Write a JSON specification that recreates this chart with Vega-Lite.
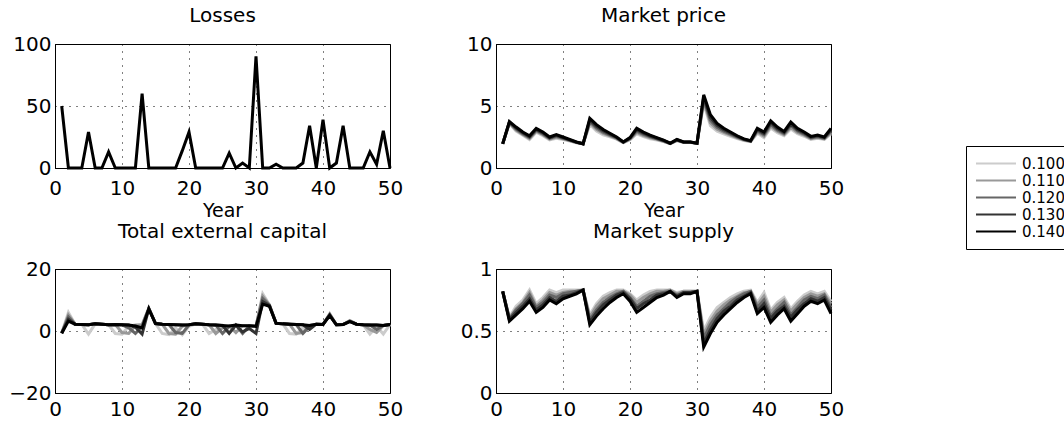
{
  "$schema": "https://vega.github.io/schema/vega-lite/v6.json",
  "padding": {"left": 8, "top": 5, "right": 0, "bottom": 0},
  "background": "white",
  "config": {
    "font": "DejaVu Sans",
    "view": {"stroke": "black", "strokeWidth": 1},
    "axis": {
      "domainColor": "black", "domainWidth": 1, "ticks": false,
      "labelFont": "DejaVu Sans", "labelFontSize": 20, "labelColor": "black",
      "titleFont": "DejaVu Sans", "titleFontSize": 19, "titleFontWeight": "normal", "titleColor": "black",
      "grid": true, "gridColor": "black", "gridDash": [1, 6], "gridOpacity": 1, "gridWidth": 1,
      "labelFlush": false, "labelOverlap": false
    },
    "axisX": {"labelPadding": 10, "titlePadding": 3},
    "axisY": {"labelPadding": 4},
    "title": {"font": "DejaVu Sans", "fontSize": 20, "fontWeight": "normal", "color": "black", "anchor": "middle"},
    "legend": {
      "symbolType": "stroke", "symbolSize": 1600, "symbolStrokeWidth": 2, "symbolOffset": 0,
      "labelFont": "DejaVu Sans", "labelFontSize": 15, "labelColor": "black", "labelOffset": 5,
      "strokeColor": "black", "fillColor": "white", "padding": 9, "rowPadding": 0, "clipHeight": 17
    }
  },
  "datasets": {
    "losses": [
      {"t":1,"v":50},{"t":2,"v":0},{"t":3,"v":0},{"t":4,"v":0},{"t":5,"v":29},{"t":6,"v":0},{"t":7,"v":0},{"t":8,"v":13},{"t":9,"v":0},{"t":10,"v":0},
      {"t":11,"v":0},{"t":12,"v":0},{"t":13,"v":60},{"t":14,"v":0},{"t":15,"v":0},{"t":16,"v":0},{"t":17,"v":0},{"t":18,"v":0},{"t":19,"v":14},{"t":20,"v":29},
      {"t":21,"v":0},{"t":22,"v":0},{"t":23,"v":0},{"t":24,"v":0},{"t":25,"v":0},{"t":26,"v":12},{"t":27,"v":0},{"t":28,"v":4},{"t":29,"v":0},{"t":30,"v":90},
      {"t":31,"v":0},{"t":32,"v":0},{"t":33,"v":3},{"t":34,"v":0},{"t":35,"v":0},{"t":36,"v":0},{"t":37,"v":4},{"t":38,"v":34},{"t":39,"v":0},{"t":40,"v":39},
      {"t":41,"v":0},{"t":42,"v":4},{"t":43,"v":34},{"t":44,"v":0},{"t":45,"v":0},{"t":46,"v":0},{"t":47,"v":13},{"t":48,"v":3},{"t":49,"v":30},{"t":50,"v":0}
    ],
    "price": [
      {"t":1,"s":"0.100","v":1.95},{"t":1,"s":"0.110","v":1.95},{"t":1,"s":"0.120","v":1.95},{"t":1,"s":"0.130","v":1.95},{"t":1,"s":"0.140","v":1.95},
      {"t":2,"s":"0.100","v":3.58},{"t":2,"s":"0.110","v":3.62},{"t":2,"s":"0.120","v":3.67},{"t":2,"s":"0.130","v":3.71},{"t":2,"s":"0.140","v":3.75},
      {"t":3,"s":"0.100","v":2.98},{"t":3,"s":"0.110","v":3.06},{"t":3,"s":"0.120","v":3.14},{"t":3,"s":"0.130","v":3.22},{"t":3,"s":"0.140","v":3.3},
      {"t":4,"s":"0.100","v":2.64},{"t":4,"s":"0.110","v":2.71},{"t":4,"s":"0.120","v":2.77},{"t":4,"s":"0.130","v":2.84},{"t":4,"s":"0.140","v":2.9},
      {"t":5,"s":"0.100","v":2.29},{"t":5,"s":"0.110","v":2.37},{"t":5,"s":"0.120","v":2.45},{"t":5,"s":"0.130","v":2.52},{"t":5,"s":"0.140","v":2.6},
      {"t":6,"s":"0.100","v":2.89},{"t":6,"s":"0.110","v":2.97},{"t":6,"s":"0.120","v":3.05},{"t":6,"s":"0.130","v":3.12},{"t":6,"s":"0.140","v":3.2},
      {"t":7,"s":"0.100","v":2.6},{"t":7,"s":"0.110","v":2.68},{"t":7,"s":"0.120","v":2.75},{"t":7,"s":"0.130","v":2.83},{"t":7,"s":"0.140","v":2.9},
      {"t":8,"s":"0.100","v":2.27},{"t":8,"s":"0.110","v":2.33},{"t":8,"s":"0.120","v":2.39},{"t":8,"s":"0.130","v":2.44},{"t":8,"s":"0.140","v":2.5},
      {"t":9,"s":"0.100","v":2.4},{"t":9,"s":"0.110","v":2.48},{"t":9,"s":"0.120","v":2.55},{"t":9,"s":"0.130","v":2.63},{"t":9,"s":"0.140","v":2.7},
      {"t":10,"s":"0.100","v":2.3},{"t":10,"s":"0.110","v":2.35},{"t":10,"s":"0.120","v":2.4},{"t":10,"s":"0.130","v":2.45},{"t":10,"s":"0.140","v":2.5},
      {"t":11,"s":"0.100","v":2.18},{"t":11,"s":"0.110","v":2.21},{"t":11,"s":"0.120","v":2.24},{"t":11,"s":"0.130","v":2.27},{"t":11,"s":"0.140","v":2.3},
      {"t":12,"s":"0.100","v":2.04},{"t":12,"s":"0.110","v":2.06},{"t":12,"s":"0.120","v":2.07},{"t":12,"s":"0.130","v":2.09},{"t":12,"s":"0.140","v":2.1},
      {"t":13,"s":"0.100","v":1.95},{"t":13,"s":"0.110","v":1.95},{"t":13,"s":"0.120","v":1.95},{"t":13,"s":"0.130","v":1.95},{"t":13,"s":"0.140","v":1.95},
      {"t":14,"s":"0.100","v":3.51},{"t":14,"s":"0.110","v":3.63},{"t":14,"s":"0.120","v":3.76},{"t":14,"s":"0.130","v":3.88},{"t":14,"s":"0.140","v":4.0},
      {"t":15,"s":"0.100","v":2.99},{"t":15,"s":"0.110","v":3.12},{"t":15,"s":"0.120","v":3.25},{"t":15,"s":"0.130","v":3.37},{"t":15,"s":"0.140","v":3.5},
      {"t":16,"s":"0.100","v":2.68},{"t":16,"s":"0.110","v":2.79},{"t":16,"s":"0.120","v":2.89},{"t":16,"s":"0.130","v":3.0},{"t":16,"s":"0.140","v":3.1},
      {"t":17,"s":"0.100","v":2.52},{"t":17,"s":"0.110","v":2.59},{"t":17,"s":"0.120","v":2.66},{"t":17,"s":"0.130","v":2.73},{"t":17,"s":"0.140","v":2.8},
      {"t":18,"s":"0.100","v":2.33},{"t":18,"s":"0.110","v":2.37},{"t":18,"s":"0.120","v":2.42},{"t":18,"s":"0.130","v":2.46},{"t":18,"s":"0.140","v":2.5},
      {"t":19,"s":"0.100","v":2.04},{"t":19,"s":"0.110","v":2.06},{"t":19,"s":"0.120","v":2.07},{"t":19,"s":"0.130","v":2.09},{"t":19,"s":"0.140","v":2.1},
      {"t":20,"s":"0.100","v":2.28},{"t":20,"s":"0.110","v":2.32},{"t":20,"s":"0.120","v":2.37},{"t":20,"s":"0.130","v":2.41},{"t":20,"s":"0.140","v":2.45},
      {"t":21,"s":"0.100","v":2.76},{"t":21,"s":"0.110","v":2.87},{"t":21,"s":"0.120","v":2.98},{"t":21,"s":"0.130","v":3.09},{"t":21,"s":"0.140","v":3.2},
      {"t":22,"s":"0.100","v":2.53},{"t":22,"s":"0.110","v":2.62},{"t":22,"s":"0.120","v":2.72},{"t":22,"s":"0.130","v":2.81},{"t":22,"s":"0.140","v":2.9},
      {"t":23,"s":"0.100","v":2.36},{"t":23,"s":"0.110","v":2.43},{"t":23,"s":"0.120","v":2.51},{"t":23,"s":"0.130","v":2.58},{"t":23,"s":"0.140","v":2.65},
      {"t":24,"s":"0.100","v":2.26},{"t":24,"s":"0.110","v":2.31},{"t":24,"s":"0.120","v":2.36},{"t":24,"s":"0.130","v":2.4},{"t":24,"s":"0.140","v":2.45},
      {"t":25,"s":"0.100","v":2.13},{"t":25,"s":"0.110","v":2.16},{"t":25,"s":"0.120","v":2.19},{"t":25,"s":"0.130","v":2.22},{"t":25,"s":"0.140","v":2.25},
      {"t":26,"s":"0.100","v":1.96},{"t":26,"s":"0.110","v":1.97},{"t":26,"s":"0.120","v":1.98},{"t":26,"s":"0.130","v":1.99},{"t":26,"s":"0.140","v":2.0},
      {"t":27,"s":"0.100","v":2.2},{"t":27,"s":"0.110","v":2.23},{"t":27,"s":"0.120","v":2.25},{"t":27,"s":"0.130","v":2.28},{"t":27,"s":"0.140","v":2.3},
      {"t":28,"s":"0.100","v":2.06},{"t":28,"s":"0.110","v":2.07},{"t":28,"s":"0.120","v":2.08},{"t":28,"s":"0.130","v":2.09},{"t":28,"s":"0.140","v":2.1},
      {"t":29,"s":"0.100","v":2.06},{"t":29,"s":"0.110","v":2.07},{"t":29,"s":"0.120","v":2.08},{"t":29,"s":"0.130","v":2.09},{"t":29,"s":"0.140","v":2.1},
      {"t":30,"s":"0.100","v":2.0},{"t":30,"s":"0.110","v":2.0},{"t":30,"s":"0.120","v":2.0},{"t":30,"s":"0.130","v":2.0},{"t":30,"s":"0.140","v":2.0},
      {"t":31,"s":"0.100","v":5.2},{"t":31,"s":"0.110","v":5.38},{"t":31,"s":"0.120","v":5.55},{"t":31,"s":"0.130","v":5.73},{"t":31,"s":"0.140","v":5.9},
      {"t":32,"s":"0.100","v":3.41},{"t":32,"s":"0.110","v":3.63},{"t":32,"s":"0.120","v":3.86},{"t":32,"s":"0.130","v":4.08},{"t":32,"s":"0.140","v":4.3},
      {"t":33,"s":"0.100","v":2.97},{"t":33,"s":"0.110","v":3.13},{"t":33,"s":"0.120","v":3.29},{"t":33,"s":"0.130","v":3.44},{"t":33,"s":"0.140","v":3.6},
      {"t":34,"s":"0.100","v":2.76},{"t":34,"s":"0.110","v":2.87},{"t":34,"s":"0.120","v":2.98},{"t":34,"s":"0.130","v":3.09},{"t":34,"s":"0.140","v":3.2},
      {"t":35,"s":"0.100","v":2.56},{"t":35,"s":"0.110","v":2.65},{"t":35,"s":"0.120","v":2.73},{"t":35,"s":"0.130","v":2.82},{"t":35,"s":"0.140","v":2.9},
      {"t":36,"s":"0.100","v":2.38},{"t":36,"s":"0.110","v":2.44},{"t":36,"s":"0.120","v":2.49},{"t":36,"s":"0.130","v":2.55},{"t":36,"s":"0.140","v":2.6},
      {"t":37,"s":"0.100","v":2.22},{"t":37,"s":"0.110","v":2.25},{"t":37,"s":"0.120","v":2.29},{"t":37,"s":"0.130","v":2.32},{"t":37,"s":"0.140","v":2.35},
      {"t":38,"s":"0.100","v":2.13},{"t":38,"s":"0.110","v":2.15},{"t":38,"s":"0.120","v":2.17},{"t":38,"s":"0.130","v":2.18},{"t":38,"s":"0.140","v":2.2},
      {"t":39,"s":"0.100","v":2.8},{"t":39,"s":"0.110","v":2.9},{"t":39,"s":"0.120","v":3.0},{"t":39,"s":"0.130","v":3.1},{"t":39,"s":"0.140","v":3.2},
      {"t":40,"s":"0.100","v":2.45},{"t":40,"s":"0.110","v":2.56},{"t":40,"s":"0.120","v":2.68},{"t":40,"s":"0.130","v":2.79},{"t":40,"s":"0.140","v":2.9},
      {"t":41,"s":"0.100","v":3.23},{"t":41,"s":"0.110","v":3.37},{"t":41,"s":"0.120","v":3.52},{"t":41,"s":"0.130","v":3.66},{"t":41,"s":"0.140","v":3.8},
      {"t":42,"s":"0.100","v":2.84},{"t":42,"s":"0.110","v":2.96},{"t":42,"s":"0.120","v":3.07},{"t":42,"s":"0.130","v":3.19},{"t":42,"s":"0.140","v":3.3},
      {"t":43,"s":"0.100","v":2.6},{"t":43,"s":"0.110","v":2.69},{"t":43,"s":"0.120","v":2.78},{"t":43,"s":"0.130","v":2.86},{"t":43,"s":"0.140","v":2.95},
      {"t":44,"s":"0.100","v":3.15},{"t":44,"s":"0.110","v":3.29},{"t":44,"s":"0.120","v":3.43},{"t":44,"s":"0.130","v":3.56},{"t":44,"s":"0.140","v":3.7},
      {"t":45,"s":"0.100","v":2.76},{"t":45,"s":"0.110","v":2.87},{"t":45,"s":"0.120","v":2.98},{"t":45,"s":"0.130","v":3.09},{"t":45,"s":"0.140","v":3.2},
      {"t":46,"s":"0.100","v":2.56},{"t":46,"s":"0.110","v":2.65},{"t":46,"s":"0.120","v":2.73},{"t":46,"s":"0.130","v":2.82},{"t":46,"s":"0.140","v":2.9},
      {"t":47,"s":"0.100","v":2.31},{"t":47,"s":"0.110","v":2.37},{"t":47,"s":"0.120","v":2.43},{"t":47,"s":"0.130","v":2.49},{"t":47,"s":"0.140","v":2.55},
      {"t":48,"s":"0.100","v":2.39},{"t":48,"s":"0.110","v":2.46},{"t":48,"s":"0.120","v":2.52},{"t":48,"s":"0.130","v":2.59},{"t":48,"s":"0.140","v":2.65},
      {"t":49,"s":"0.100","v":2.3},{"t":49,"s":"0.110","v":2.35},{"t":49,"s":"0.120","v":2.4},{"t":49,"s":"0.130","v":2.45},{"t":49,"s":"0.140","v":2.5},
      {"t":50,"s":"0.100","v":2.76},{"t":50,"s":"0.110","v":2.87},{"t":50,"s":"0.120","v":2.98},{"t":50,"s":"0.130","v":3.09},{"t":50,"s":"0.140","v":3.2}
    ],
    "supply": [
      {"t":1,"s":"0.100","v":0.82},{"t":1,"s":"0.110","v":0.82},{"t":1,"s":"0.120","v":0.82},{"t":1,"s":"0.130","v":0.82},{"t":1,"s":"0.140","v":0.82},
      {"t":2,"s":"0.100","v":0.61},{"t":2,"s":"0.110","v":0.6},{"t":2,"s":"0.120","v":0.6},{"t":2,"s":"0.130","v":0.59},{"t":2,"s":"0.140","v":0.58},
      {"t":3,"s":"0.100","v":0.7},{"t":3,"s":"0.110","v":0.68},{"t":3,"s":"0.120","v":0.67},{"t":3,"s":"0.130","v":0.65},{"t":3,"s":"0.140","v":0.63},
      {"t":4,"s":"0.100","v":0.75},{"t":4,"s":"0.110","v":0.73},{"t":4,"s":"0.120","v":0.72},{"t":4,"s":"0.130","v":0.7},{"t":4,"s":"0.140","v":0.68},
      {"t":5,"s":"0.100","v":0.83},{"t":5,"s":"0.110","v":0.81},{"t":5,"s":"0.120","v":0.79},{"t":5,"s":"0.130","v":0.76},{"t":5,"s":"0.140","v":0.74},
      {"t":6,"s":"0.100","v":0.72},{"t":6,"s":"0.110","v":0.7},{"t":6,"s":"0.120","v":0.69},{"t":6,"s":"0.130","v":0.67},{"t":6,"s":"0.140","v":0.65},
      {"t":7,"s":"0.100","v":0.77},{"t":7,"s":"0.110","v":0.75},{"t":7,"s":"0.120","v":0.73},{"t":7,"s":"0.130","v":0.71},{"t":7,"s":"0.140","v":0.69},
      {"t":8,"s":"0.100","v":0.83},{"t":8,"s":"0.110","v":0.81},{"t":8,"s":"0.120","v":0.79},{"t":8,"s":"0.130","v":0.77},{"t":8,"s":"0.140","v":0.75},
      {"t":9,"s":"0.100","v":0.81},{"t":9,"s":"0.110","v":0.79},{"t":9,"s":"0.120","v":0.77},{"t":9,"s":"0.130","v":0.74},{"t":9,"s":"0.140","v":0.72},
      {"t":10,"s":"0.100","v":0.83},{"t":10,"s":"0.110","v":0.81},{"t":10,"s":"0.120","v":0.8},{"t":10,"s":"0.130","v":0.78},{"t":10,"s":"0.140","v":0.76},
      {"t":11,"s":"0.100","v":0.83},{"t":11,"s":"0.110","v":0.82},{"t":11,"s":"0.120","v":0.81},{"t":11,"s":"0.130","v":0.79},{"t":11,"s":"0.140","v":0.78},
      {"t":12,"s":"0.100","v":0.83},{"t":12,"s":"0.110","v":0.82},{"t":12,"s":"0.120","v":0.82},{"t":12,"s":"0.130","v":0.81},{"t":12,"s":"0.140","v":0.8},
      {"t":13,"s":"0.100","v":0.83},{"t":13,"s":"0.110","v":0.83},{"t":13,"s":"0.120","v":0.83},{"t":13,"s":"0.130","v":0.83},{"t":13,"s":"0.140","v":0.83},
      {"t":14,"s":"0.100","v":0.63},{"t":14,"s":"0.110","v":0.61},{"t":14,"s":"0.120","v":0.59},{"t":14,"s":"0.130","v":0.57},{"t":14,"s":"0.140","v":0.55},
      {"t":15,"s":"0.100","v":0.72},{"t":15,"s":"0.110","v":0.7},{"t":15,"s":"0.120","v":0.67},{"t":15,"s":"0.130","v":0.65},{"t":15,"s":"0.140","v":0.62},
      {"t":16,"s":"0.100","v":0.78},{"t":16,"s":"0.110","v":0.76},{"t":16,"s":"0.120","v":0.73},{"t":16,"s":"0.130","v":0.71},{"t":16,"s":"0.140","v":0.68},
      {"t":17,"s":"0.100","v":0.81},{"t":17,"s":"0.110","v":0.79},{"t":17,"s":"0.120","v":0.77},{"t":17,"s":"0.130","v":0.75},{"t":17,"s":"0.140","v":0.73},
      {"t":18,"s":"0.100","v":0.83},{"t":18,"s":"0.110","v":0.82},{"t":18,"s":"0.120","v":0.8},{"t":18,"s":"0.130","v":0.79},{"t":18,"s":"0.140","v":0.77},
      {"t":19,"s":"0.100","v":0.83},{"t":19,"s":"0.110","v":0.82},{"t":19,"s":"0.120","v":0.82},{"t":19,"s":"0.130","v":0.81},{"t":19,"s":"0.140","v":0.8},
      {"t":20,"s":"0.100","v":0.8},{"t":20,"s":"0.110","v":0.79},{"t":20,"s":"0.120","v":0.77},{"t":20,"s":"0.130","v":0.76},{"t":20,"s":"0.140","v":0.74},
      {"t":21,"s":"0.100","v":0.75},{"t":21,"s":"0.110","v":0.73},{"t":21,"s":"0.120","v":0.7},{"t":21,"s":"0.130","v":0.68},{"t":21,"s":"0.140","v":0.65},
      {"t":22,"s":"0.100","v":0.79},{"t":22,"s":"0.110","v":0.77},{"t":22,"s":"0.120","v":0.74},{"t":22,"s":"0.130","v":0.72},{"t":22,"s":"0.140","v":0.69},
      {"t":23,"s":"0.100","v":0.82},{"t":23,"s":"0.110","v":0.8},{"t":23,"s":"0.120","v":0.78},{"t":23,"s":"0.130","v":0.75},{"t":23,"s":"0.140","v":0.73},
      {"t":24,"s":"0.100","v":0.83},{"t":24,"s":"0.110","v":0.82},{"t":24,"s":"0.120","v":0.8},{"t":24,"s":"0.130","v":0.79},{"t":24,"s":"0.140","v":0.77},
      {"t":25,"s":"0.100","v":0.83},{"t":25,"s":"0.110","v":0.82},{"t":25,"s":"0.120","v":0.81},{"t":25,"s":"0.130","v":0.8},{"t":25,"s":"0.140","v":0.79},
      {"t":26,"s":"0.100","v":0.83},{"t":26,"s":"0.110","v":0.83},{"t":26,"s":"0.120","v":0.82},{"t":26,"s":"0.130","v":0.82},{"t":26,"s":"0.140","v":0.82},
      {"t":27,"s":"0.100","v":0.81},{"t":27,"s":"0.110","v":0.8},{"t":27,"s":"0.120","v":0.79},{"t":27,"s":"0.130","v":0.78},{"t":27,"s":"0.140","v":0.77},
      {"t":28,"s":"0.100","v":0.82},{"t":28,"s":"0.110","v":0.82},{"t":28,"s":"0.120","v":0.81},{"t":28,"s":"0.130","v":0.81},{"t":28,"s":"0.140","v":0.8},
      {"t":29,"s":"0.100","v":0.82},{"t":29,"s":"0.110","v":0.82},{"t":29,"s":"0.120","v":0.81},{"t":29,"s":"0.130","v":0.81},{"t":29,"s":"0.140","v":0.8},
      {"t":30,"s":"0.100","v":0.82},{"t":30,"s":"0.110","v":0.82},{"t":30,"s":"0.120","v":0.82},{"t":30,"s":"0.130","v":0.82},{"t":30,"s":"0.140","v":0.82},
      {"t":31,"s":"0.100","v":0.5},{"t":31,"s":"0.110","v":0.47},{"t":31,"s":"0.120","v":0.44},{"t":31,"s":"0.130","v":0.4},{"t":31,"s":"0.140","v":0.37},
      {"t":32,"s":"0.100","v":0.61},{"t":32,"s":"0.110","v":0.58},{"t":32,"s":"0.120","v":0.55},{"t":32,"s":"0.130","v":0.51},{"t":32,"s":"0.140","v":0.48},
      {"t":33,"s":"0.100","v":0.69},{"t":33,"s":"0.110","v":0.66},{"t":33,"s":"0.120","v":0.63},{"t":33,"s":"0.130","v":0.6},{"t":33,"s":"0.140","v":0.57},
      {"t":34,"s":"0.100","v":0.73},{"t":34,"s":"0.110","v":0.71},{"t":34,"s":"0.120","v":0.68},{"t":34,"s":"0.130","v":0.66},{"t":34,"s":"0.140","v":0.63},
      {"t":35,"s":"0.100","v":0.77},{"t":35,"s":"0.110","v":0.75},{"t":35,"s":"0.120","v":0.73},{"t":35,"s":"0.130","v":0.7},{"t":35,"s":"0.140","v":0.68},
      {"t":36,"s":"0.100","v":0.8},{"t":36,"s":"0.110","v":0.78},{"t":36,"s":"0.120","v":0.77},{"t":36,"s":"0.130","v":0.75},{"t":36,"s":"0.140","v":0.73},
      {"t":37,"s":"0.100","v":0.82},{"t":37,"s":"0.110","v":0.81},{"t":37,"s":"0.120","v":0.8},{"t":37,"s":"0.130","v":0.78},{"t":37,"s":"0.140","v":0.77},
      {"t":38,"s":"0.100","v":0.83},{"t":38,"s":"0.110","v":0.82},{"t":38,"s":"0.120","v":0.82},{"t":38,"s":"0.130","v":0.81},{"t":38,"s":"0.140","v":0.8},
      {"t":39,"s":"0.100","v":0.73},{"t":39,"s":"0.110","v":0.71},{"t":39,"s":"0.120","v":0.69},{"t":39,"s":"0.130","v":0.66},{"t":39,"s":"0.140","v":0.64},
      {"t":40,"s":"0.100","v":0.81},{"t":40,"s":"0.110","v":0.78},{"t":40,"s":"0.120","v":0.75},{"t":40,"s":"0.130","v":0.72},{"t":40,"s":"0.140","v":0.69},
      {"t":41,"s":"0.100","v":0.67},{"t":41,"s":"0.110","v":0.65},{"t":41,"s":"0.120","v":0.62},{"t":41,"s":"0.130","v":0.6},{"t":41,"s":"0.140","v":0.57},
      {"t":42,"s":"0.100","v":0.73},{"t":42,"s":"0.110","v":0.71},{"t":42,"s":"0.120","v":0.68},{"t":42,"s":"0.130","v":0.66},{"t":42,"s":"0.140","v":0.63},
      {"t":43,"s":"0.100","v":0.77},{"t":43,"s":"0.110","v":0.75},{"t":43,"s":"0.120","v":0.73},{"t":43,"s":"0.130","v":0.7},{"t":43,"s":"0.140","v":0.68},
      {"t":44,"s":"0.100","v":0.68},{"t":44,"s":"0.110","v":0.66},{"t":44,"s":"0.120","v":0.63},{"t":44,"s":"0.130","v":0.61},{"t":44,"s":"0.140","v":0.58},
      {"t":45,"s":"0.100","v":0.74},{"t":45,"s":"0.110","v":0.72},{"t":45,"s":"0.120","v":0.69},{"t":45,"s":"0.130","v":0.67},{"t":45,"s":"0.140","v":0.64},
      {"t":46,"s":"0.100","v":0.79},{"t":46,"s":"0.110","v":0.77},{"t":46,"s":"0.120","v":0.75},{"t":46,"s":"0.130","v":0.72},{"t":46,"s":"0.140","v":0.7},
      {"t":47,"s":"0.100","v":0.82},{"t":47,"s":"0.110","v":0.8},{"t":47,"s":"0.120","v":0.78},{"t":47,"s":"0.130","v":0.76},{"t":47,"s":"0.140","v":0.74},
      {"t":48,"s":"0.100","v":0.8},{"t":48,"s":"0.110","v":0.78},{"t":48,"s":"0.120","v":0.76},{"t":48,"s":"0.130","v":0.74},{"t":48,"s":"0.140","v":0.72},
      {"t":49,"s":"0.100","v":0.82},{"t":49,"s":"0.110","v":0.8},{"t":49,"s":"0.120","v":0.79},{"t":49,"s":"0.130","v":0.77},{"t":49,"s":"0.140","v":0.75},
      {"t":50,"s":"0.100","v":0.74},{"t":50,"s":"0.110","v":0.72},{"t":50,"s":"0.120","v":0.69},{"t":50,"s":"0.130","v":0.67},{"t":50,"s":"0.140","v":0.64}
    ],
    "capital": [
      {"t":1,"s":"0.100","v":-0.7},{"t":1,"s":"0.110","v":-0.7},{"t":1,"s":"0.120","v":-0.7},{"t":1,"s":"0.130","v":-0.7},{"t":1,"s":"0.140","v":-0.7},
      {"t":2,"s":"0.100","v":6.0},{"t":2,"s":"0.110","v":5.2},{"t":2,"s":"0.120","v":4.5},{"t":2,"s":"0.130","v":3.8},{"t":2,"s":"0.140","v":3.2},
      {"t":3,"s":"0.100","v":2.2},{"t":3,"s":"0.110","v":2.2},{"t":3,"s":"0.120","v":2.2},{"t":3,"s":"0.130","v":2.2},{"t":3,"s":"0.140","v":2.2},
      {"t":4,"s":"0.100","v":2.1},{"t":4,"s":"0.110","v":2.1},{"t":4,"s":"0.120","v":2.1},{"t":4,"s":"0.130","v":2.1},{"t":4,"s":"0.140","v":2.1},
      {"t":5,"s":"0.100","v":-1.0},{"t":5,"s":"0.110","v":2.0},{"t":5,"s":"0.120","v":2.0},{"t":5,"s":"0.130","v":2.0},{"t":5,"s":"0.140","v":2.0},
      {"t":6,"s":"0.100","v":2.3},{"t":6,"s":"0.110","v":2.3},{"t":6,"s":"0.120","v":2.3},{"t":6,"s":"0.130","v":2.3},{"t":6,"s":"0.140","v":2.3},
      {"t":7,"s":"0.100","v":2.2},{"t":7,"s":"0.110","v":2.2},{"t":7,"s":"0.120","v":2.2},{"t":7,"s":"0.130","v":2.2},{"t":7,"s":"0.140","v":2.2},
      {"t":8,"s":"0.100","v":2.0},{"t":8,"s":"0.110","v":2.0},{"t":8,"s":"0.120","v":2.0},{"t":8,"s":"0.130","v":2.0},{"t":8,"s":"0.140","v":2.0},
      {"t":9,"s":"0.100","v":-0.8},{"t":9,"s":"0.110","v":2.1},{"t":9,"s":"0.120","v":2.1},{"t":9,"s":"0.130","v":2.1},{"t":9,"s":"0.140","v":2.1},
      {"t":10,"s":"0.100","v":-1.0},{"t":10,"s":"0.110","v":-0.5},{"t":10,"s":"0.120","v":2.0},{"t":10,"s":"0.130","v":2.0},{"t":10,"s":"0.140","v":2.0},
      {"t":11,"s":"0.100","v":1.5},{"t":11,"s":"0.110","v":-0.8},{"t":11,"s":"0.120","v":1.0},{"t":11,"s":"0.130","v":1.9},{"t":11,"s":"0.140","v":1.9},
      {"t":12,"s":"0.100","v":2.0},{"t":12,"s":"0.110","v":1.8},{"t":12,"s":"0.120","v":-0.8},{"t":12,"s":"0.130","v":1.2},{"t":12,"s":"0.140","v":1.6},
      {"t":13,"s":"0.100","v":2.0},{"t":13,"s":"0.110","v":2.0},{"t":13,"s":"0.120","v":1.5},{"t":13,"s":"0.130","v":-1.0},{"t":13,"s":"0.140","v":1.0},
      {"t":14,"s":"0.100","v":7.4},{"t":14,"s":"0.110","v":7.3},{"t":14,"s":"0.120","v":7.2},{"t":14,"s":"0.130","v":7.2},{"t":14,"s":"0.140","v":7.1},
      {"t":15,"s":"0.100","v":2.4},{"t":15,"s":"0.110","v":2.4},{"t":15,"s":"0.120","v":2.4},{"t":15,"s":"0.130","v":2.4},{"t":15,"s":"0.140","v":2.4},
      {"t":16,"s":"0.100","v":-0.8},{"t":16,"s":"0.110","v":2.2},{"t":16,"s":"0.120","v":2.2},{"t":16,"s":"0.130","v":2.2},{"t":16,"s":"0.140","v":2.2},
      {"t":17,"s":"0.100","v":-1.2},{"t":17,"s":"0.110","v":-0.8},{"t":17,"s":"0.120","v":2.1},{"t":17,"s":"0.130","v":2.1},{"t":17,"s":"0.140","v":2.1},
      {"t":18,"s":"0.100","v":1.0},{"t":18,"s":"0.110","v":-1.0},{"t":18,"s":"0.120","v":-0.5},{"t":18,"s":"0.130","v":2.0},{"t":18,"s":"0.140","v":2.0},
      {"t":19,"s":"0.100","v":-1.2},{"t":19,"s":"0.110","v":1.5},{"t":19,"s":"0.120","v":-0.8},{"t":19,"s":"0.130","v":1.9},{"t":19,"s":"0.140","v":1.9},
      {"t":20,"s":"0.100","v":1.5},{"t":20,"s":"0.110","v":2.0},{"t":20,"s":"0.120","v":2.0},{"t":20,"s":"0.130","v":2.0},{"t":20,"s":"0.140","v":2.0},
      {"t":21,"s":"0.100","v":2.3},{"t":21,"s":"0.110","v":2.3},{"t":21,"s":"0.120","v":2.3},{"t":21,"s":"0.130","v":2.3},{"t":21,"s":"0.140","v":2.3},
      {"t":22,"s":"0.100","v":2.2},{"t":22,"s":"0.110","v":2.2},{"t":22,"s":"0.120","v":2.2},{"t":22,"s":"0.130","v":2.2},{"t":22,"s":"0.140","v":2.2},
      {"t":23,"s":"0.100","v":-0.8},{"t":23,"s":"0.110","v":2.0},{"t":23,"s":"0.120","v":2.0},{"t":23,"s":"0.130","v":2.0},{"t":23,"s":"0.140","v":2.0},
      {"t":24,"s":"0.100","v":0.5},{"t":24,"s":"0.110","v":-0.8},{"t":24,"s":"0.120","v":1.9},{"t":24,"s":"0.130","v":1.9},{"t":24,"s":"0.140","v":1.9},
      {"t":25,"s":"0.100","v":1.8},{"t":25,"s":"0.110","v":1.0},{"t":25,"s":"0.120","v":-0.8},{"t":25,"s":"0.130","v":1.8},{"t":25,"s":"0.140","v":1.8},
      {"t":26,"s":"0.100","v":-0.5},{"t":26,"s":"0.110","v":1.6},{"t":26,"s":"0.120","v":1.5},{"t":26,"s":"0.130","v":-0.8},{"t":26,"s":"0.140","v":1.6},
      {"t":27,"s":"0.100","v":1.9},{"t":27,"s":"0.110","v":-0.5},{"t":27,"s":"0.120","v":1.9},{"t":27,"s":"0.130","v":1.9},{"t":27,"s":"0.140","v":1.9},
      {"t":28,"s":"0.100","v":1.7},{"t":28,"s":"0.110","v":1.8},{"t":28,"s":"0.120","v":-0.8},{"t":28,"s":"0.130","v":-0.3},{"t":28,"s":"0.140","v":1.7},
      {"t":29,"s":"0.100","v":1.7},{"t":29,"s":"0.110","v":1.7},{"t":29,"s":"0.120","v":1.7},{"t":29,"s":"0.130","v":0.8},{"t":29,"s":"0.140","v":1.7},
      {"t":30,"s":"0.100","v":1.5},{"t":30,"s":"0.110","v":1.5},{"t":30,"s":"0.120","v":1.5},{"t":30,"s":"0.130","v":-0.8},{"t":30,"s":"0.140","v":1.5},
      {"t":31,"s":"0.100","v":12.0},{"t":31,"s":"0.110","v":11.2},{"t":31,"s":"0.120","v":10.4},{"t":31,"s":"0.130","v":9.5},{"t":31,"s":"0.140","v":8.7},
      {"t":32,"s":"0.100","v":8.5},{"t":32,"s":"0.110","v":8.4},{"t":32,"s":"0.120","v":8.3},{"t":32,"s":"0.130","v":8.2},{"t":32,"s":"0.140","v":8.0},
      {"t":33,"s":"0.100","v":2.5},{"t":33,"s":"0.110","v":2.5},{"t":33,"s":"0.120","v":2.5},{"t":33,"s":"0.130","v":2.5},{"t":33,"s":"0.140","v":2.5},
      {"t":34,"s":"0.100","v":2.3},{"t":34,"s":"0.110","v":2.3},{"t":34,"s":"0.120","v":2.3},{"t":34,"s":"0.130","v":2.3},{"t":34,"s":"0.140","v":2.3},
      {"t":35,"s":"0.100","v":-0.8},{"t":35,"s":"0.110","v":2.2},{"t":35,"s":"0.120","v":2.2},{"t":35,"s":"0.130","v":2.2},{"t":35,"s":"0.140","v":2.2},
      {"t":36,"s":"0.100","v":-1.0},{"t":36,"s":"0.110","v":-0.8},{"t":36,"s":"0.120","v":2.1},{"t":36,"s":"0.130","v":2.1},{"t":36,"s":"0.140","v":2.1},
      {"t":37,"s":"0.100","v":1.0},{"t":37,"s":"0.110","v":-0.5},{"t":37,"s":"0.120","v":-0.8},{"t":37,"s":"0.130","v":2.0},{"t":37,"s":"0.140","v":2.0},
      {"t":38,"s":"0.100","v":1.8},{"t":38,"s":"0.110","v":1.8},{"t":38,"s":"0.120","v":1.5},{"t":38,"s":"0.130","v":0.5},{"t":38,"s":"0.140","v":1.8},
      {"t":39,"s":"0.100","v":2.2},{"t":39,"s":"0.110","v":2.2},{"t":39,"s":"0.120","v":2.2},{"t":39,"s":"0.130","v":2.2},{"t":39,"s":"0.140","v":2.2},
      {"t":40,"s":"0.100","v":2.1},{"t":40,"s":"0.110","v":2.1},{"t":40,"s":"0.120","v":2.1},{"t":40,"s":"0.130","v":2.1},{"t":40,"s":"0.140","v":2.1},
      {"t":41,"s":"0.100","v":5.6},{"t":41,"s":"0.110","v":5.4},{"t":41,"s":"0.120","v":5.3},{"t":41,"s":"0.130","v":5.1},{"t":41,"s":"0.140","v":5.0},
      {"t":42,"s":"0.100","v":2.0},{"t":42,"s":"0.110","v":2.0},{"t":42,"s":"0.120","v":2.0},{"t":42,"s":"0.130","v":2.0},{"t":42,"s":"0.140","v":2.0},
      {"t":43,"s":"0.100","v":2.1},{"t":43,"s":"0.110","v":2.1},{"t":43,"s":"0.120","v":2.1},{"t":43,"s":"0.130","v":2.1},{"t":43,"s":"0.140","v":2.1},
      {"t":44,"s":"0.100","v":3.4},{"t":44,"s":"0.110","v":3.3},{"t":44,"s":"0.120","v":3.2},{"t":44,"s":"0.130","v":3.1},{"t":44,"s":"0.140","v":3.0},
      {"t":45,"s":"0.100","v":2.2},{"t":45,"s":"0.110","v":2.2},{"t":45,"s":"0.120","v":2.2},{"t":45,"s":"0.130","v":2.2},{"t":45,"s":"0.140","v":2.2},
      {"t":46,"s":"0.100","v":2.0},{"t":46,"s":"0.110","v":2.0},{"t":46,"s":"0.120","v":2.0},{"t":46,"s":"0.130","v":2.0},{"t":46,"s":"0.140","v":2.0},
      {"t":47,"s":"0.100","v":-1.0},{"t":47,"s":"0.110","v":0.5},{"t":47,"s":"0.120","v":1.9},{"t":47,"s":"0.130","v":1.9},{"t":47,"s":"0.140","v":1.9},
      {"t":48,"s":"0.100","v":1.5},{"t":48,"s":"0.110","v":-0.5},{"t":48,"s":"0.120","v":0.5},{"t":48,"s":"0.130","v":1.9},{"t":48,"s":"0.140","v":1.9},
      {"t":49,"s":"0.100","v":-1.0},{"t":49,"s":"0.110","v":1.8},{"t":49,"s":"0.120","v":1.8},{"t":49,"s":"0.130","v":1.8},{"t":49,"s":"0.140","v":1.8},
      {"t":50,"s":"0.100","v":2.1},{"t":50,"s":"0.110","v":2.1},{"t":50,"s":"0.120","v":2.1},{"t":50,"s":"0.130","v":2.1},{"t":50,"s":"0.140","v":2.1}
    ]
  },
  "columns": 2,
  "bounds": "flush",
  "spacing": {"row": 101, "column": 106},
  "resolve": {"scale": {"color": "shared"}},
  "concat": [
    {
      "width": 335, "height": 124,
      "title": {"text": "Losses", "offset": 8},
      "data": {"name": "losses"},
      "mark": {"type": "line", "color": "black", "strokeWidth": 3, "strokeJoin": "miter"},
      "encoding": {
        "x": {"field": "t", "type": "quantitative", "scale": {"domain": [0, 50], "nice": false}, "axis": {"values": [0, 10, 20, 30, 40, 50], "title": "Year"}},
        "y": {"field": "v", "type": "quantitative", "scale": {"domain": [0, 100], "nice": false}, "axis": {"values": [0, 50, 100], "title": null}}
      }
    },
    {
      "width": 335, "height": 124,
      "title": {"text": "Market price", "offset": 8},
      "data": {"name": "price"},
      "mark": {"type": "line", "strokeWidth": 3, "strokeJoin": "miter"},
      "encoding": {
        "x": {"field": "t", "type": "quantitative", "scale": {"domain": [0, 50], "nice": false}, "axis": {"values": [0, 10, 20, 30, 40, 50], "title": "Year"}},
        "y": {"field": "v", "type": "quantitative", "scale": {"domain": [0, 10], "nice": false}, "axis": {"values": [0, 5, 10], "title": null}},
        "color": {"field": "s", "type": "nominal", "scale": {"domain": ["0.100", "0.110", "0.120", "0.130", "0.140"], "range": ["#cccccc", "#999999", "#666666", "#333333", "#000000"]}, "legend": {"title": null, "orient": "none", "legendX": 911, "legendY": 102}}
      }
    },
    {
      "width": 335, "height": 124,
      "title": {"text": "Total external capital", "offset": 17},
      "data": {"name": "capital"},
      "mark": {"type": "line", "strokeWidth": 3, "strokeJoin": "miter"},
      "encoding": {
        "x": {"field": "t", "type": "quantitative", "scale": {"domain": [0, 50], "nice": false}, "axis": {"values": [0, 10, 20, 30, 40, 50], "title": null, "labelPadding": 6}},
        "y": {"field": "v", "type": "quantitative", "scale": {"domain": [-20, 20], "nice": false}, "axis": {"values": [-20, 0, 20], "title": null}},
        "color": {"field": "s", "type": "nominal", "scale": {"domain": ["0.100", "0.110", "0.120", "0.130", "0.140"], "range": ["#cccccc", "#999999", "#666666", "#333333", "#000000"]}, "legend": {"title": null, "orient": "none", "legendX": 911, "legendY": 102}}
      }
    },
    {
      "width": 335, "height": 124,
      "title": {"text": "Market supply", "offset": 17},
      "data": {"name": "supply"},
      "mark": {"type": "line", "strokeWidth": 3, "strokeJoin": "miter"},
      "encoding": {
        "x": {"field": "t", "type": "quantitative", "scale": {"domain": [0, 50], "nice": false}, "axis": {"values": [0, 10, 20, 30, 40, 50], "title": null, "labelPadding": 6}},
        "y": {"field": "v", "type": "quantitative", "scale": {"domain": [0, 1], "nice": false}, "axis": {"values": [0, 0.5, 1], "format": "~g", "title": null}},
        "color": {"field": "s", "type": "nominal", "scale": {"domain": ["0.100", "0.110", "0.120", "0.130", "0.140"], "range": ["#cccccc", "#999999", "#666666", "#333333", "#000000"]}, "legend": {"title": null, "orient": "none", "legendX": 911, "legendY": 102}}
      }
    }
  ]
}
